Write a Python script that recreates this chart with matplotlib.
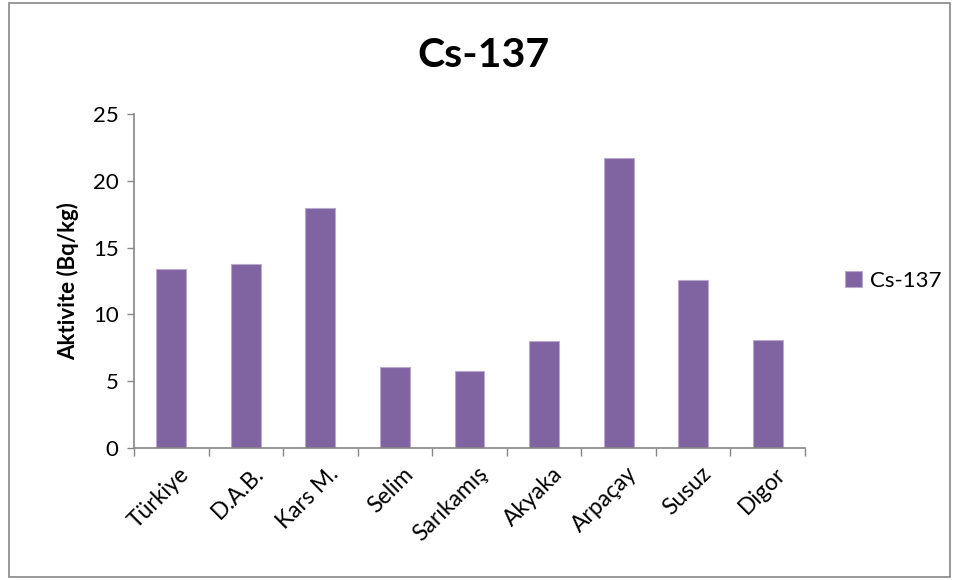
import numpy as np
import matplotlib
matplotlib.use('Agg')
from matplotlib import pyplot as plt
from matplotlib.patches import Rectangle

# data
regions = ['Türkiye', 'D.A.B.', 'Kars M.', 'Selim', 'Sarıkamış', 'Akyaka', 'Arpaçay', 'Susuz', 'Digor']
cs137 = [13.4, 13.8, 18.0, 6.1, 5.8, 8.0, 21.7, 12.6, 8.1]
yticks = [0, 5, 10, 15, 20, 25]

plt.rcParams['font.family'] = ['Lato', 'DejaVu Sans']
purple = '#8064A2'
grey = '#868686'

fig = plt.figure(figsize=(9.61, 5.80), dpi=100)
ax = fig.add_axes([0.1394, 0.2276, 0.6983, 0.5758])

x = np.arange(len(regions))
ax.bar(x, cs137, width=0.40, color=purple, edgecolor='#B9A9CF', linewidth=0.8, label='Cs-137', zorder=2)

ax.set_xlim(-0.5, len(regions) - 0.5)
ax.set_ylim(0, 25)
ax.set_yticks(yticks)
ax.tick_params(axis='y', labelsize=16, length=5, color=grey, width=1, pad=6)

# tick marks between categories, labels under the bars
ax.set_xticks(np.arange(-0.5, len(regions), 1.0))
ax.set_xticklabels([])
ax.tick_params(axis='x', which='major', length=6, color=grey, width=1)
ax.set_xticks(x + 0.1, minor=True)
ax.set_xticklabels(regions, minor=True, rotation=45, ha='right', rotation_mode='anchor', fontsize=16.5)
ax.tick_params(axis='x', which='minor', length=0, pad=11)

for s in ['top', 'right']:
    ax.spines[s].set_visible(False)
for s in ['left', 'bottom']:
    ax.spines[s].set_color(grey)
    ax.spines[s].set_linewidth(1.2)

ax.set_ylabel('Aktivite (Bq/kg)', fontsize=16, fontweight='bold', labelpad=10)
fig.text(0.503, 0.905, 'Cs-137', fontsize=29.5, fontweight='bold', ha='center', va='center')

ax.legend(loc='center left', bbox_to_anchor=(1.03, 0.5), frameon=False, fontsize=16,
          handlelength=0.75, handleheight=0.75, handletextpad=0.35)

# outer chart border
fig.patches.append(Rectangle((0.009, 0.006), 0.980, 0.988, transform=fig.transFigure,
                             fill=False, edgecolor=grey, linewidth=1.2))

fig.savefig('out.png', dpi=100)
